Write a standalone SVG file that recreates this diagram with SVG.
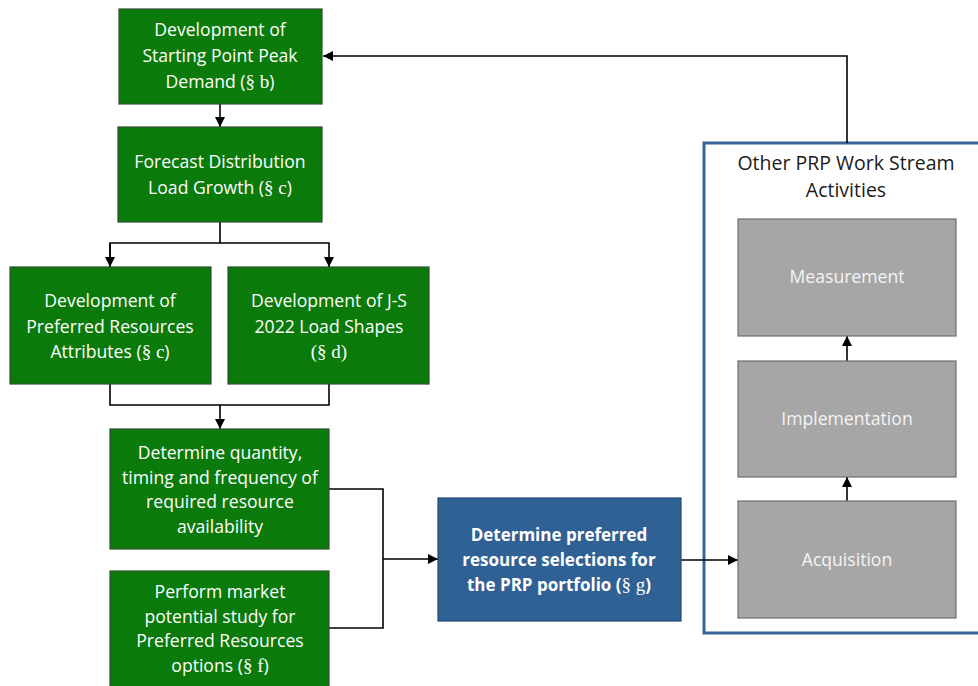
<svg xmlns="http://www.w3.org/2000/svg" width="978" height="686" viewBox="0 0 978 686">
<style>
.g{fill:#0A7A0A;stroke:#2F4F2F;stroke-width:1.2}
.gr{fill:#A6A6A6;stroke:#6E6E6E;stroke-width:1.2}
.b{fill:#2F6195;stroke:#24497A;stroke-width:1.2}
.t{font-family:"Open Sans","Liberation Sans",sans-serif;font-size:17.6px;fill:#FFFFFF;text-anchor:middle}
.tb{font-weight:bold;font-size:17px}
.tk{fill:#1A1A1A;font-size:19.5px}
.tg{fill:#F4F4F4}
.s{font-family:"Liberation Serif",serif;font-size:19px}
.c{fill:none;stroke:#000;stroke-width:1.6}
</style>
<defs>
<marker id="a" viewBox="0 0 10 10" refX="10" refY="5" markerWidth="10" markerHeight="10" markerUnits="userSpaceOnUse" orient="auto"><path d="M0,0L10,5L0,10z" fill="#000"/></marker>
</defs>
<rect width="978" height="686" fill="#fff"/>
<g id="container">
<rect x="704" y="143" width="276" height="490" fill="none" stroke="#3A6396" stroke-width="3"/>
<text class="t tk" x="846" y="170">Other PRP Work Stream</text>
<text class="t tk" x="846" y="197">Activities</text>
</g>
<g id="connectors">
<path class="c" d="M220,104V127" marker-end="url(#a)"/>
<path class="c" d="M220,222V243H110V267M220,243H329V267" marker-end="url(#a)"/>
<path class="c" d="M110,243V267" marker-end="url(#a)"/>
<path class="c" d="M110,384V405H329V384M220,405V429" marker-end="url(#a)"/>
<path class="c" d="M329,489H383V628H329M383,559H438" marker-end="url(#a)"/>
<path class="c" d="M681,560H738" marker-end="url(#a)"/>
<path class="c" d="M847,501V477" marker-end="url(#a)"/>
<path class="c" d="M847,361V336" marker-end="url(#a)"/>
<path class="c" d="M847,143V56H323" marker-end="url(#a)"/>
</g>
<g id="n1">
<rect class="g" x="119" y="9" width="203" height="95"/>
<text class="t" x="220" y="36">Development of</text>
<text class="t" x="220" y="62">Starting Point Peak</text>
<text class="t" x="220" y="88">Demand (<tspan class="s">§ b</tspan>)</text>
</g>
<g id="n2">
<rect class="g" x="118" y="127" width="204" height="95"/>
<text class="t" x="220" y="168">Forecast Distribution</text>
<text class="t" x="220" y="194">Load Growth (<tspan class="s">§ c</tspan>)</text>
</g>
<g id="n3">
<rect class="g" x="10" y="267" width="201" height="117"/>
<text class="t" x="110" y="307">Development of</text>
<text class="t" x="110" y="333">Preferred Resources</text>
<text class="t" x="110" y="358">Attributes (<tspan class="s">§ c</tspan>)</text>
</g>
<g id="n4">
<rect class="g" x="228" y="267" width="201" height="117"/>
<text class="t" x="329" y="307">Development of  J-S</text>
<text class="t" x="329" y="333">2022 Load Shapes</text>
<text class="t" x="329" y="358"><tspan class="s">(§ d)</tspan></text>
</g>
<g id="n5">
<rect class="g" x="110" y="429" width="219" height="120"/>
<text class="t" x="220" y="459">Determine quantity,</text>
<text class="t" x="220" y="484">timing and frequency of</text>
<text class="t" x="220" y="508">required resource</text>
<text class="t" x="220" y="533">availability</text>
</g>
<g id="n6">
<rect class="g" x="110" y="571" width="219" height="120"/>
<text class="t" x="220" y="598">Perform market</text>
<text class="t" x="220" y="623">potential study for</text>
<text class="t" x="220" y="647">Preferred Resources</text>
<text class="t" x="220" y="672">options (<tspan class="s">§ f</tspan>)</text>
</g>
<g id="n7">
<rect class="b" x="438" y="498" width="243" height="123"/>
<text class="t tb" x="559" y="541">Determine preferred</text>
<text class="t tb" x="559" y="566">resource selections for</text>
<text class="t tb" x="559" y="591">the PRP portfolio (<tspan class="s" font-weight="normal">§ g</tspan>)</text>
</g>
<g id="n8">
<rect class="gr" x="738" y="219" width="218" height="117"/>
<text class="t tg" x="847" y="283">Measurement</text>
</g>
<g id="n9">
<rect class="gr" x="738" y="361" width="218" height="116"/>
<text class="t tg" x="847" y="425">Implementation</text>
</g>
<g id="n10">
<rect class="gr" x="738" y="501" width="218" height="117"/>
<text class="t tg" x="847" y="566">Acquisition</text>
</g>
</svg>
